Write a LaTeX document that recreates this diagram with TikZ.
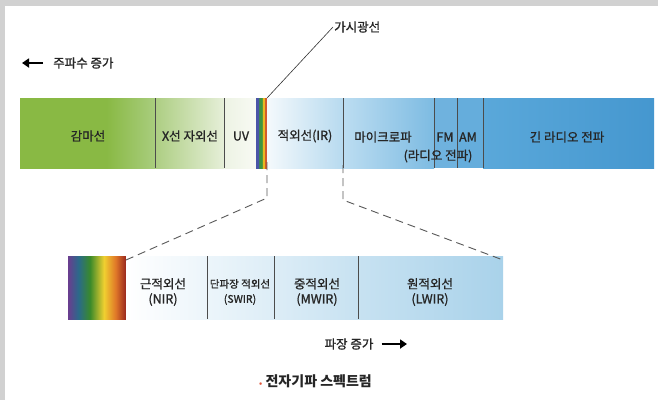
\documentclass[tikz,border=0pt]{standalone}
\usepackage{fontspec}
\setmainfont{Noto Sans CJK KR}
\newfontfamily\krgras{Noto Sans CJK KR}[FakeBold=1.2]
\usetikzlibrary{arrows.meta}
\definecolor{gamA}{HTML}{89B944}
\definecolor{gamB}{HTML}{A9CD7E}
\definecolor{xA}{HTML}{ADCE82}
\definecolor{xB}{HTML}{E6EFD9}
\definecolor{uvA}{HTML}{EDF3E4}
\definecolor{uvB}{HTML}{F8FAF4}
\definecolor{visA}{HTML}{4A55A8}
\definecolor{visB}{HTML}{3D9440}
\definecolor{visC}{HTML}{E8B820}
\definecolor{visD}{HTML}{D25A2A}
\definecolor{irA}{HTML}{F4F9FC}
\definecolor{irB}{HTML}{B7DAEF}
\definecolor{micA}{HTML}{BCDDF1}
\definecolor{micB}{HTML}{7DBBE2}
\definecolor{fmC}{HTML}{6FB2DE}
\definecolor{amC}{HTML}{65ADDC}
\definecolor{radA}{HTML}{5AA8DA}
\definecolor{radB}{HTML}{4597CF}
\definecolor{basC}{HTML}{A9D2EA}
\definecolor{rbA}{HTML}{6A3D8F}
\definecolor{rbB}{HTML}{2A6A8A}
\definecolor{rbC}{HTML}{3A8A2A}
\definecolor{rbD}{HTML}{F0D030}
\definecolor{rbE}{HTML}{E07828}
\definecolor{rbF}{HTML}{98261E}
\definecolor{point}{HTML}{E0553A}
\pgfdeclarehorizontalshading{gamma}{100bp}{color(0bp)=(gamA); color(25bp)=(gamA); color(57bp)=(gamA); color(75bp)=(gamB); color(100bp)=(gamB)}
\pgfdeclarehorizontalshading{visible}{100bp}{color(0bp)=(visA); color(25bp)=(visA); color(38.5bp)=(visA); color(38.6bp)=(visB); color(52.2bp)=(visB); color(52.3bp)=(visC); color(63.5bp)=(visC); color(63.6bp)=(visD); color(75bp)=(visD); color(100bp)=(visD)}
\pgfdeclarehorizontalshading{arcenciel}{100bp}{color(0bp)=(rbA); color(25bp)=(rbA); color(34bp)=(rbB); color(44bp)=(rbC); color(56bp)=(rbD); color(66bp)=(rbE); color(75bp)=(rbF); color(100bp)=(rbF)}
\begin{document}
\begin{tikzpicture}[x=1pt, y=-1pt]
\tikzset{bande/.style={anchor=north west, minimum height=70pt, inner sep=0pt, outer sep=0pt},
  bas/.style={anchor=north west, minimum height=63pt, inner sep=0pt, outer sep=0pt},
  etiq/.style={font=\krgras\fontsize{12.5}{15}\selectfont, text=black!85, inner sep=1pt, align=center},
  trait/.style={draw=black!70, line width=0.9pt},
  tiret/.style={draw=black!65, line width=0.9pt, dash pattern=on 8pt off 5pt},
  fleche/.style={line width=2.6pt, -{Triangle[length=7pt, width=9pt]}}}
\useasboundingbox (0,0) rectangle (658,400);
\fill[black!18] (0,0) rectangle (658,400);
\fill[white] (5,6) rectangle (658,400);
\node[bande, minimum width=135pt, shading=gamma] (gam) at (20,98) {};
\node[bande, minimum width=69pt, left color=xA, right color=xB] (xray) at (155,98) {};
\node[bande, minimum width=32pt, left color=uvA, right color=uvB] (uv) at (224,98) {};
\node[bande, minimum width=11pt, shading=visible] (vis) at (256,98) {};
\node[bande, minimum width=76pt, left color=irA, right color=irB] (ir) at (267,98) {};
\node[bande, minimum width=91pt, left color=micA, right color=micB] (mic) at (343,98) {};
\node[bande, minimum width=23pt, fill=fmC] (fm) at (434,98) {};
\node[bande, minimum width=26pt, fill=amC] (am) at (457,98) {};
\node[bande, minimum width=171pt, left color=radA, right color=radB] (rad) at (483,98) {};
\draw[trait] (gam.north east) -- (gam.south east);
\draw[trait] (xray.north east) -- (xray.south east);
\draw[trait] (ir.north east) -- (ir.south east);
\draw[trait] (mic.north east) -- (mic.south east);
\draw[trait] (fm.north east) -- (fm.south east);
\draw[trait] (am.north east) -- (am.south east);
\node[etiq] (lgam) at (88,136) {감마선};
\node[etiq] (lx) at (190,136) {X선 자외선};
\node[etiq] (luv) at (241,136) {UV};
\node[etiq] (lir) at (305,136) {적외선(IR)};
\node[etiq] (lmic) at (383,137) {마이크로파};
\node[etiq] (lfm) at (445,137) {FM};
\node[etiq] (lam) at (468,137) {AM};
\node[etiq] (lrad) at (438,156) {(라디오 전파)};
\node[etiq] (llong) at (567,137) {긴 라디오 전파};
\node[etiq, anchor=west] (lfreq) at (52,63) {주파수 증가};
\coordinate (fg) at (22,63);
\draw[fleche] ([xshift=-9pt]lfreq.west) -- (fg);
\node[etiq, anchor=west] (lum) at (333,27) {가시광선};
\draw[black!80, line width=0.6pt] (vis.north east) -- (lum.west);
\node[bas, minimum width=58pt, shading=arcenciel] (arc) at (68,256) {};
\node[bas, minimum width=81pt, left color=white, right color=basC!22] (nir) at (126,256) {};
\node[bas, minimum width=67pt, left color=basC!22, right color=basC!40] (swir) at (207,256) {};
\node[bas, minimum width=84pt, left color=basC!40, right color=basC!65] (mwir) at (274,256) {};
\node[bas, minimum width=145pt, left color=basC!65, right color=basC] (lwir) at (358,256) {};
\draw[trait] (nir.north east) -- (nir.south east);
\draw[trait] (swir.north east) -- (swir.south east);
\draw[trait] (mwir.north east) -- (mwir.south east);
\node[etiq] (lnir) at (163,292) {근적외선\\(NIR)};
\node[etiq, font=\krgras\fontsize{10.5}{15}\selectfont] (lswir) at (240,292) {단파장 적외선\\(SWIR)};
\node[etiq] (lmwir) at (317,292) {중적외선\\(MWIR)};
\node[etiq] (llwir) at (430,292) {원적외선\\(LWIR)};
\coordinate (kl) at (267,198);
\coordinate (kr) at (343,200);
\draw[tiret] ([yshift=6pt]vis.south east) -- (kl) -- ([yshift=-4pt]nir.north west);
\draw[tiret] ([yshift=3pt]ir.south east) -- (kr) -- ([yshift=-4pt]lwir.north east);
\node[etiq] (lond) at (349,344) {파장 증가};
\coordinate (fd) at (407,344);
\draw[fleche] ([xshift=7pt]lond.east) -- (fd);
\node[etiq, anchor=west, font=\fontsize{14}{16}\selectfont\bfseries] (titre) at (258,381) {\textcolor{point}{\fontsize{8}{8}\selectfont•} 전자기파 스펙트럼};
\end{tikzpicture}
\end{document}
